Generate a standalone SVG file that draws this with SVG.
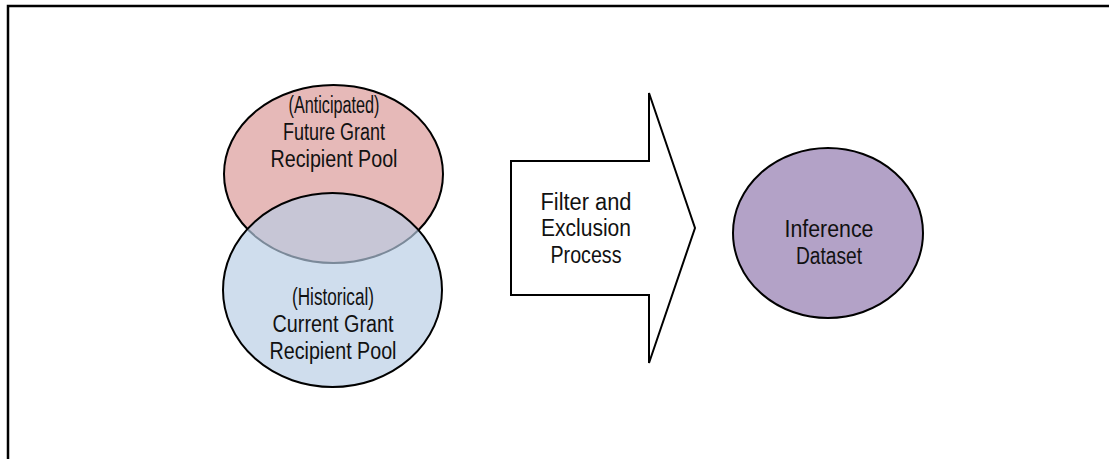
<svg xmlns="http://www.w3.org/2000/svg" width="1109" height="459" viewBox="0 0 1109 459">
<style>
.t{font-family:"Liberation Sans",Arial,sans-serif;font-size:23px;fill:#111;text-anchor:middle}
.s{stroke:#000;stroke-width:2}
</style>
<rect x="8" y="6" width="1110" height="470" fill="#fff" stroke="#000" stroke-width="2.5"/>
<g id="future-pool">
<ellipse class="s" cx="333.5" cy="174" rx="109.5" ry="89" fill="#e6b9b8"/>
<text class="t" x="334" y="113" textLength="91" lengthAdjust="spacingAndGlyphs">(Anticipated)</text>
<text class="t" x="334" y="140" textLength="102" lengthAdjust="spacingAndGlyphs">Future Grant</text>
<text class="t" x="334" y="167" textLength="127" lengthAdjust="spacingAndGlyphs">Recipient Pool</text>
</g>
<g id="current-pool">
<ellipse class="s" cx="332.5" cy="290" rx="109.5" ry="97" fill="#b8cce4" fill-opacity="0.67"/>
<text class="t" x="333" y="305" textLength="82" lengthAdjust="spacingAndGlyphs">(Historical)</text>
<text class="t" x="333" y="332" textLength="121" lengthAdjust="spacingAndGlyphs">Current Grant</text>
<text class="t" x="333" y="359" textLength="127" lengthAdjust="spacingAndGlyphs">Recipient Pool</text>
</g>
<g id="filter-process">
<path class="s" d="M511,161 H649 V93 L695,228 L649,363 V295 H511 Z" fill="#fff" stroke-linejoin="miter"/>
<text class="t" x="586" y="210" textLength="91" lengthAdjust="spacingAndGlyphs">Filter and</text>
<text class="t" x="586" y="236" textLength="90" lengthAdjust="spacingAndGlyphs">Exclusion</text>
<text class="t" x="586" y="263" textLength="71" lengthAdjust="spacingAndGlyphs">Process</text>
</g>
<g id="inference-dataset">
<ellipse class="s" cx="828" cy="233" rx="95" ry="85" fill="#b3a2c7"/>
<text class="t" x="829" y="237" textLength="89" lengthAdjust="spacingAndGlyphs">Inference</text>
<text class="t" x="829" y="264" textLength="66" lengthAdjust="spacingAndGlyphs">Dataset</text>
</g>
<g id="connectors"></g>
</svg>
